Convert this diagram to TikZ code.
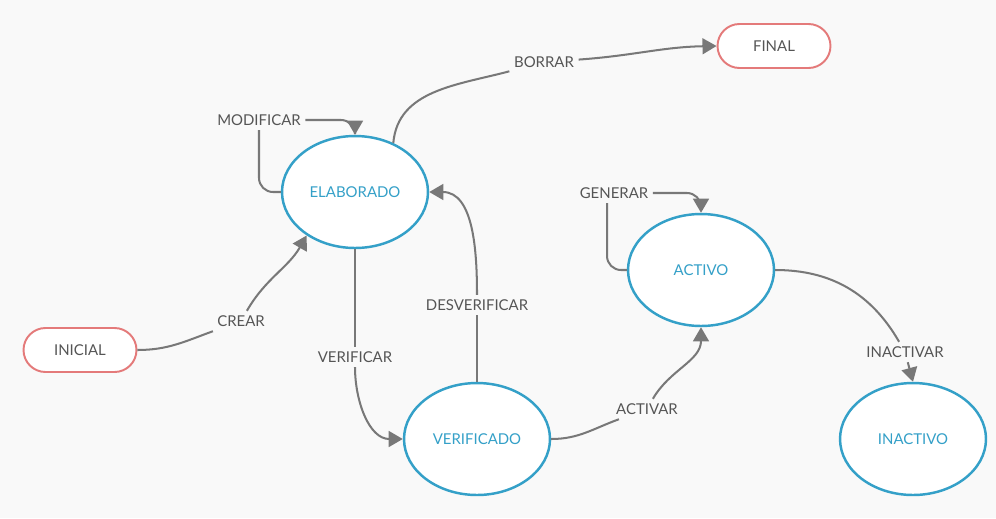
\documentclass[tikz,border=0pt]{standalone}
\usepackage{fontspec}
\setmainfont{Lato}
\usepackage{tikz}
\usetikzlibrary{calc, shapes.geometric, positioning, arrows.meta}
\definecolor{estado}{RGB}{52,160,200}
\definecolor{extremo}{RGB}{228,122,122}
\definecolor{flecha}{RGB}{120,120,120}
\definecolor{rotulo}{RGB}{85,85,85}
\definecolor{fondo}{RGB}{249,249,249}
\newcommand\estadonodo[4]{\node[estadobox] (#1) at (#2,#3) {#4};}
\newcommand\rotulonodo[4]{\node[rotulobox] (#1) at (#2,#3) {#4};}

\begin{document}
\begin{tikzpicture}[x=0.02cm, y=0.02cm,
	estadobox/.style={ellipse, draw=estado, fill=white, line width=1.4pt, minimum width=2.92cm, minimum height=2.24cm, text=estado, font=\fontsize{8.5}{10}\selectfont},
	extremobox/.style={rectangle, rounded corners=0.44cm, draw=extremo, fill=white, line width=1.1pt, minimum width=2.26cm, minimum height=0.88cm, text=rotulo, font=\fontsize{8.5}{10}\selectfont},
	rotulobox/.style={inner sep=2.5pt, text=rotulo, font=\fontsize{8.5}{10}\selectfont},
	conn/.style={draw=flecha, line width=1.15pt, -},
	tip/.style={-{Triangle[length=8pt,width=9pt]}}]
	\fill[fondo] (0,0) rectangle (996,-518);
	\useasboundingbox (0,0) rectangle (996,-518);

\node[extremobox] (inicial) at (80,-350) {INICIAL};
\node[extremobox] (final) at (774,-46) {FINAL};

\estadonodo{elaborado}{355}{-192}{ELABORADO}
\estadonodo{verificado}{477}{-439}{VERIFICADO}
\estadonodo{activo}{701}{-270}{ACTIVO}
\estadonodo{inactivo}{913}{-439}{INACTIVO}

\rotulonodo{crear}{241}{-321}{CREAR}
\rotulonodo{borrar}{544}{-62}{BORRAR}
\rotulonodo{modificar}{259}{-120}{MODIFICAR}
\rotulonodo{verificar}{355}{-357}{VERIFICAR}
\rotulonodo{desverificar}{477}{-305}{DESVERIFICAR}
\rotulonodo{generar}{614}{-193}{GENERAR}
\rotulonodo{activar}{647}{-409}{ACTIVAR}
\rotulonodo{inactivar}{905}{-352}{INACTIVAR}

% crear / borrar
\draw[conn] (inicial.east) to[out=0, in=200] (crear);
\draw[conn, tip] (crear) to[out=60, in=240] (elaborado.222);
\draw[conn] (elaborado.52) to[out=85, in=195] (borrar);
\draw[conn, tip] (borrar) to[out=4, in=181] (final.west);

% bucles
\draw[conn, rounded corners=8pt] (elaborado.west) -| (modificar.south);
\draw[conn, tip, rounded corners=8pt] (modificar.east) -| (elaborado.north);
\draw[conn, rounded corners=8pt] (activo.west) -| ($(generar.south)+(-7,0)$);
\draw[conn, tip, rounded corners=8pt] (generar.east) -| (activo.north);

% verificar / desverificar
\draw[conn] (elaborado.south) -- (verificar.north);
\draw[conn, tip] (verificar.south) to[out=-90, in=180] (verificado.west);
\draw[conn] (verificado.north) -- (desverificar.south);
\draw[conn, tip] (desverificar.north) to[out=90, in=0] (elaborado.east);

% activar / inactivar
\draw[conn] (verificado.east) to[out=0, in=200] (activar);
\draw[conn, tip] (activar) to[out=60, in=-90] (activo.south);
\draw[conn] (activo.east) to[out=0, in=120] (inactivar);
\draw[conn, tip] (inactivar) -- (inactivo.north);
\end{tikzpicture}
\end{document}
